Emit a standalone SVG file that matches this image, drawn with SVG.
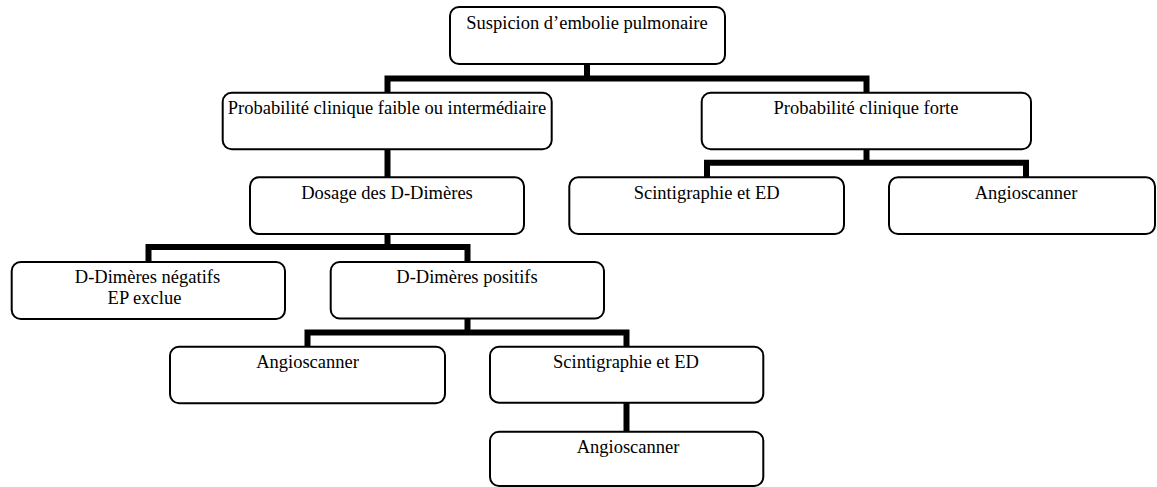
<svg xmlns="http://www.w3.org/2000/svg" width="1157" height="487" viewBox="0 0 1157 487">
<style>
.box{fill:#fff;stroke:#000;stroke-width:2}
.lbl{font-family:"Liberation Serif","Times New Roman",serif;font-size:18.5px;fill:#000;text-anchor:middle}
.con{fill:none;stroke:#000;stroke-width:6;stroke-linejoin:miter;stroke-linecap:butt}
</style>
<rect width="1157" height="487" fill="#fff"/>
<g id="connectors">
<path class="con" d="M587 64 V78.5"/>
<path class="con" d="M387.5 93 V78.5 H866.5 V93"/>
<path class="con" d="M387.5 149 V177.5"/>
<path class="con" d="M866.5 149 V162.7"/>
<path class="con" d="M707 177.5 V162.7 H1026 V177.5"/>
<path class="con" d="M387.5 234 V247"/>
<path class="con" d="M148.5 262 V247 H467.5 V262"/>
<path class="con" d="M467.5 318.5 V332.5"/>
<path class="con" d="M307.5 347 V332.5 H626.5 V347"/>
<path class="con" d="M626.5 403 V432"/>
</g>
<g id="n-suspicion">
<rect class="box" x="450" y="7" width="275" height="57" rx="9"/>
<text class="lbl" x="587" y="29">Suspicion d’embolie pulmonaire</text>
</g>
<g id="n-faible">
<rect class="box" x="222.7" y="92.7" width="329" height="56.6" rx="9"/>
<text class="lbl" x="387" y="114.3">Probabilité clinique faible ou intermédiaire</text>
</g>
<g id="n-forte">
<rect class="box" x="701.7" y="92.7" width="329.3" height="56.6" rx="9"/>
<text class="lbl" x="866" y="114.3">Probabilité clinique forte</text>
</g>
<g id="n-dosage">
<rect class="box" x="250" y="177.3" width="274" height="56.7" rx="9"/>
<text class="lbl" x="387" y="198.5">Dosage des D-Dimères</text>
</g>
<g id="n-scinti1">
<rect class="box" x="569.3" y="177.3" width="274.7" height="56.7" rx="9"/>
<text class="lbl" x="706.7" y="198.5">Scintigraphie et ED</text>
</g>
<g id="n-angio1">
<rect class="box" x="889" y="177.3" width="266" height="56.7" rx="9"/>
<text class="lbl" x="1026" y="198.5">Angioscanner</text>
</g>
<g id="n-negatifs">
<rect class="box" x="11.7" y="262" width="273.3" height="57" rx="9"/>
<text class="lbl" x="147.5" y="282.7">D-Dimères négatifs</text>
<text class="lbl" x="144.5" y="304">EP exclue</text>
</g>
<g id="n-positifs">
<rect class="box" x="330.7" y="262" width="273.3" height="56.5" rx="9"/>
<text class="lbl" x="467" y="282.7">D-Dimères positifs</text>
</g>
<g id="n-angio2">
<rect class="box" x="170" y="346.7" width="275" height="56.6" rx="9"/>
<text class="lbl" x="307.5" y="367.7">Angioscanner</text>
</g>
<g id="n-scinti2">
<rect class="box" x="490" y="346.7" width="273.3" height="56" rx="9"/>
<text class="lbl" x="626" y="367.7">Scintigraphie et ED</text>
</g>
<g id="n-angio3">
<rect class="box" x="490" y="431.7" width="273.3" height="54.3" rx="9"/>
<text class="lbl" x="628" y="452.5">Angioscanner</text>
</g>
</svg>
